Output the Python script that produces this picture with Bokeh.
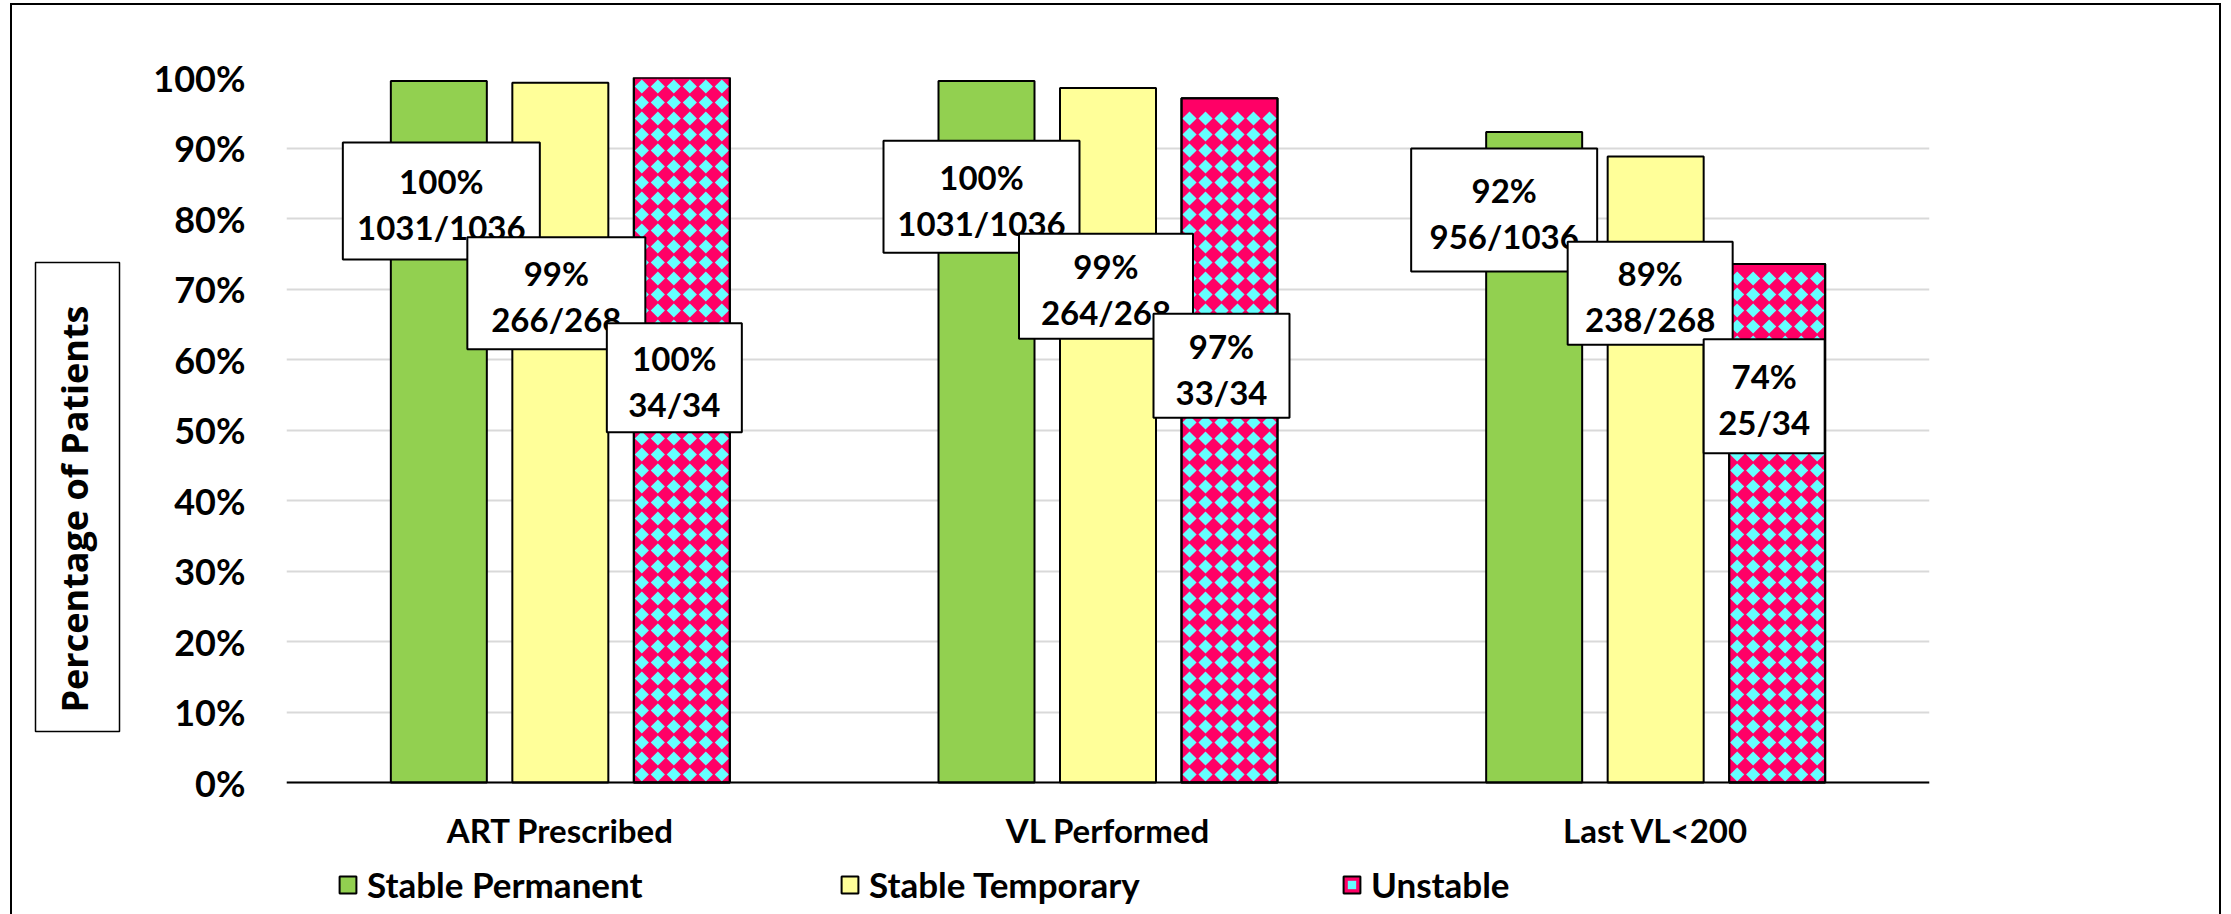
import math

from bokeh.core.properties import value
from bokeh.embed import file_html
from bokeh.models import (ColumnDataSource, FactorRange, FixedTicker, Legend, LegendItem,
                          Range1d, Title)
from bokeh.plotting import figure
from bokeh.resources import INLINE
from bokeh.transform import dodge

# ---------------------------------------------------------------- data
categories = ["ART Prescribed", "VL Performed", "Last VL<200"]
series = ["Stable Permanent", "Stable Temporary", "Unstable"]

stable_permanent_n = [1031, 1031, 956]
stable_permanent_d = [1036, 1036, 1036]
stable_temporary_n = [266, 264, 238]
stable_temporary_d = [268, 268, 268]
unstable_n = [34, 33, 25]
unstable_d = [34, 34, 34]

y_ticks = [0, 10, 20, 30, 40, 50, 60, 70, 80, 90, 100]
y_tick_labels = ["0%", "10%", "20%", "30%", "40%", "50%", "60%", "70%", "80%", "90%", "100%"]

# ---------------------------------------------------------------- layout
W, H = 2231, 914
FRAME_L, FRAME_T, FRAME_W = 286, 77, 1643
AXIS_Y = 782                       # pixel row of the 0% baseline
PX_PER_PCT = (AXIS_Y - FRAME_T) / 100.0
FRAME_H = H - FRAME_T              # frame runs to the bottom so the legend sits inside it
Y_MIN = -(H - AXIS_Y) / PX_PER_PCT
CAT_PX = FRAME_W / len(categories)
BAR_W = 96 / CAT_PX
BAR_STEP = 121.5 / CAT_PX

GREEN, YELLOW, PINK, CYAN = "#92D050", "#FFFF99", "#FF0066", "#66FFFF"
LABEL_FONT = "Lato"
TITLE_FONT = "Open Sans"

# callout boxes: centre (px shift from bar centre, % height), size in px
callout_dx = [[2.5, -5, -30], [-4, -2, -5.5], [-7.5, -8, -13]]
callout_y = [[82.5, 83.1, 81.2], [69.4, 70.4, 69.4], [57.4, 59.1, 54.8]]
callout_w = [[197, 196, 186], [178, 174, 165], [135, 136, 121]]
callout_h = [[117, 112, 123], [112, 105, 103], [109, 104, 114]]

# chart border drawn around the whole figure
frame_css = """
:host { position: relative; }
:host::after {
  content: ""; position: absolute; left: 10px; top: 3px; width: 2211px; height: 911px;
  border: 2.5px solid black; border-bottom: none; box-sizing: border-box;
  pointer-events: none;
}
"""

p = figure(
    x_range=FactorRange(*categories, range_padding=0),
    y_range=Range1d(Y_MIN, 100),
    frame_width=FRAME_W, frame_height=FRAME_H,
    min_border_left=FRAME_L, min_border_top=FRAME_T,
    min_border_right=W - FRAME_L - FRAME_W, min_border_bottom=0,
    output_backend="svg", toolbar_location=None,
    background_fill_color="white", border_fill_color="white",
    stylesheets=[frame_css],
)
p.outline_line_color = None

# axes
p.yaxis.ticker = FixedTicker(ticks=y_ticks)
p.yaxis.major_label_overrides = {t: lab for t, lab in zip(y_ticks, y_tick_labels)}
p.yaxis.axis_line_color = None
p.yaxis.major_tick_line_color = None
p.yaxis.major_tick_out = 0
p.yaxis.minor_tick_line_color = None
p.yaxis.minor_tick_out = 0
p.yaxis.major_label_standoff = 41
p.yaxis.major_label_text_font = LABEL_FONT
p.yaxis.major_label_text_font_style = "bold"
p.yaxis.major_label_text_font_size = "36px"
p.yaxis.major_label_text_color = "black"

p.xaxis.fixed_location = 0
p.xaxis.axis_line_color = "black"
p.xaxis.axis_line_width = 2
p.xaxis.major_tick_line_color = None
p.xaxis.major_tick_out = 0
p.xaxis.minor_tick_line_color = None
p.xaxis.minor_tick_out = 0
p.xaxis.major_label_standoff = 27
p.xaxis.major_label_text_font = LABEL_FONT
p.xaxis.major_label_text_font_style = "bold"
p.xaxis.major_label_text_font_size = "33px"
p.xaxis.major_label_text_color = "black"

p.xgrid.grid_line_color = None
p.ygrid.ticker = FixedTicker(ticks=y_ticks)
p.ygrid.grid_line_color = "#D9D9D9"
p.ygrid.grid_line_width = 2

counts = [
    (stable_permanent_n, stable_permanent_d),
    (stable_temporary_n, stable_temporary_d),
    (unstable_n, unstable_d),
]
fills = [GREEN, YELLOW, PINK]

legend_items = []
for i, ((num, den), fill) in enumerate(zip(counts, fills)):
    pct = [100.0 * n / d for n, d in zip(num, den)]
    src = ColumnDataSource(dict(cat=categories, pct=pct))
    x = dodge("cat", (i - 1) * BAR_STEP, range=p.x_range)
    r = p.vbar(x=x, top="pct", width=BAR_W, source=src,
               fill_color=fill, line_color="black", line_width=2)
    renderers = [r]
    if fill == PINK:
        # cyan diamond texture laid over the pink bars, 16 px tiles
        dx, dy = [], []
        for k, v in enumerate(pct):
            left = k + 0.5 + (i - 1) * BAR_STEP - BAR_W / 2
            top_px = v * PX_PER_PCT
            for col in range(6):
                row = 0
                while 8 + 16 * row + 5 <= top_px:
                    dx.append(left + (8 + 16 * col) / CAT_PX)
                    dy.append((8 + 16 * row) / PX_PER_PCT)
                    row += 1
        d = p.scatter(x=dx, y=dy, marker="square", size=10, angle=math.pi / 4,
                      fill_color=CYAN, line_color=None)
        p.vbar(x=x, top="pct", width=BAR_W, source=src,
               fill_color=None, line_color="black", line_width=2)
        renderers.append(d)
    legend_items.append(LegendItem(label=series[i], renderers=renderers))

# callouts, drawn series by series so later boxes sit on top of earlier ones
for i, (num, den) in enumerate(counts):
    pct = [100.0 * n / d for n, d in zip(num, den)]
    xs = [k + 0.5 + (i - 1) * BAR_STEP + callout_dx[i][k] / CAT_PX for k in range(len(categories))]
    src = ColumnDataSource(dict(
        x=xs, y=callout_y[i], w=callout_w[i], h=callout_h[i],
        top=[f"{round(v)}%" for v in pct],
        bottom=[f"{n}/{d}" for n, d in zip(num, den)],
    ))
    p.rect(x="x", y="y", width="w", height="h", width_units="screen", height_units="screen",
           source=src, fill_color="white", line_color="black", line_width=2)
    for col, off in (("top", -20), ("bottom", 26)):
        p.text(x="x", y="y", text=col, source=src, y_offset=off,
               text_align="center", text_baseline="middle",
               text_font=value(LABEL_FONT), text_font_style=value("bold"),
               text_font_size="33px", text_color="black")

legend = Legend(items=legend_items, orientation="horizontal", location=(51, 9),
                glyph_width=21, glyph_height=21, label_standoff=9, label_width=472, spacing=0,
                padding=0, margin=0, border_line_color=None, background_fill_alpha=0,
                label_text_font=LABEL_FONT, label_text_font_style="bold",
                label_text_font_size="35px", label_text_color="black")
p.add_layout(legend)

# boxed axis title
p.add_layout(Title(text="Percentage of Patients", align="left", vertical_align="middle",
                   offset=183, standoff=33,
                   text_font=TITLE_FONT, text_font_style="bold", text_font_size="36px",
                   text_color="black", border_line_color="black", border_line_width=1.5,
                   background_fill_color="white", padding=(19, 43, 14, 21)), "left")

open("out.html", "w").write(file_html(p, INLINE))
